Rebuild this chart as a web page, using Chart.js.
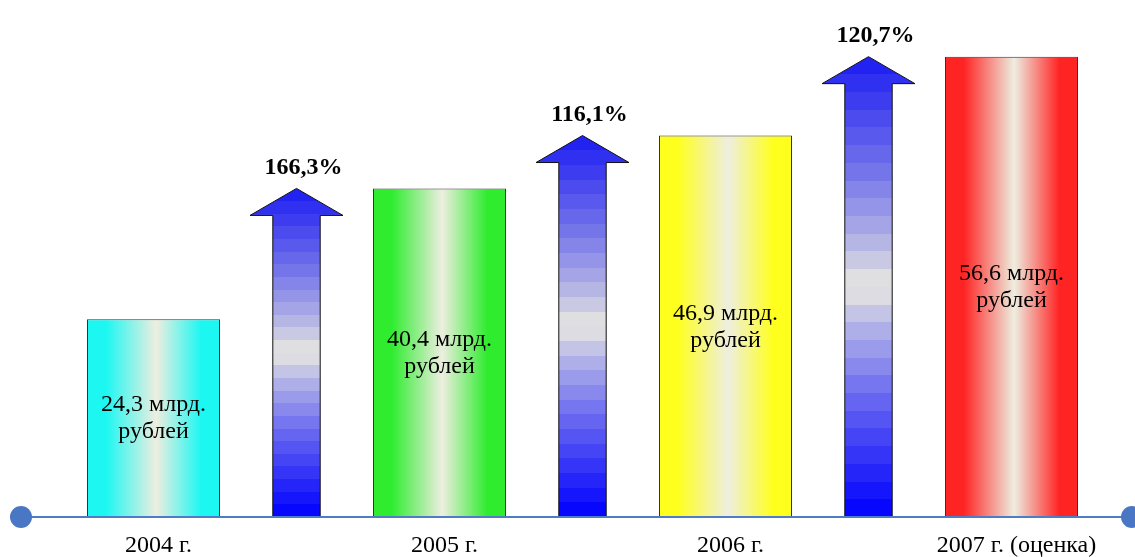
<!DOCTYPE html>
<html>
<head>
<meta charset="utf-8">
<script src="https://cdn.jsdelivr.net/npm/chart.js@4"></script>
<style>
  html, body { margin: 0; padding: 0; background: #fff; }
  #wrap { width: 1135px; height: 557px; }
</style>
</head>
<body>
<div id="wrap"><canvas id="chart" width="1135" height="557"></canvas></div>
<script>
// data
var years = ['2004 г.', '2005 г.', '2006 г.', '2007 г. (оценка)'];
var revenue = [24.3, 40.4, 46.9, 56.6];       // млрд. рублей
var growth = [166.3, 116.1, 120.7];           // % to previous year
var barColors = ['#1CF7F2', '#2FEC2F', '#FFFF1E', '#FF2424'];

var serif = "'Liberation Serif', 'Times New Roman', serif";

// 7 slots: bar, arrow, bar, arrow ...
var labels = [], barData = [], arrowData = [];
years.forEach(function (y, i) {
    labels.push(y); barData.push(revenue[i]); arrowData.push(null);
    if (i < years.length - 1) {
        labels.push(''); barData.push(null); arrowData.push(revenue[i + 1]);
    }
});

function fmt(v) { return v.toFixed(1).replace('.', ','); }

function mix(a, b, t) {
    var pa = [parseInt(a.substr(1, 2), 16), parseInt(a.substr(3, 2), 16), parseInt(a.substr(5, 2), 16)];
    var pb = [parseInt(b.substr(1, 2), 16), parseInt(b.substr(3, 2), 16), parseInt(b.substr(5, 2), 16)];
    return 'rgb(' + pa.map(function (c, k) { return Math.round(c + (pb[k] - c) * t); }).join(',') + ')';
}

function barFill(ctx) {
    var chart = ctx.chart;
    var col = barColors[ctx.dataIndex / 2] || '#ccc';
    if (!chart.chartArea) return col;
    var xs = chart.scales.x;
    var c = xs.getPixelForValue(ctx.dataIndex);
    var w = xs.width / labels.length * 0.93;
    var g = chart.ctx.createLinearGradient(c - w / 2, 0, c + w / 2, 0);
    g.addColorStop(0, col);
    g.addColorStop(0.14, col);
    g.addColorStop(0.52, '#EEEEE0');
    g.addColorStop(0.86, col);
    g.addColorStop(1, col);
    return g;
}

var arrowPlugin = {
    id: 'arrows',
    afterDatasetsDraw: function (chart) {
        var ctx = chart.ctx;
        var meta = chart.getDatasetMeta(1);
        var k = 0;
        meta.data.forEach(function (el, i) {
            if (arrowData[i] == null) return;
            var p = el.getProps(['x', 'y', 'base', 'width'], true);
            var head = p.width, shaft = p.width * 0.51, hh = 27;
            var g = ctx.createLinearGradient(0, p.base, 0, p.y);
            var n = 26;
            for (var s = 0; s < n; s++) {
                var t = (s + 0.5) / n;
                var d = Math.abs(t - 0.5) * 2;
                var col = t < 0.5 ? mix('#EEEEE0', '#0000FF', Math.pow(d, 0.8))
                                  : mix('#EEEEE0', '#1C1CF2', Math.pow(d, 0.8));
                g.addColorStop(s / n, col);
                g.addColorStop((s + 1) / n, col);
            }
            ctx.save();
            ctx.beginPath();
            ctx.moveTo(p.x - shaft / 2, p.base);
            ctx.lineTo(p.x - shaft / 2, p.y + hh);
            ctx.lineTo(p.x - head / 2, p.y + hh);
            ctx.lineTo(p.x, p.y);
            ctx.lineTo(p.x + head / 2, p.y + hh);
            ctx.lineTo(p.x + shaft / 2, p.y + hh);
            ctx.lineTo(p.x + shaft / 2, p.base);
            ctx.closePath();
            ctx.fillStyle = g;
            ctx.fill();
            ctx.lineWidth = 1;
            ctx.strokeStyle = '#111';
            ctx.stroke();

            ctx.fillStyle = '#000';
            ctx.font = 'bold 24px ' + serif;
            ctx.textAlign = 'center';
            ctx.textBaseline = 'middle';
            ctx.fillText(fmt(growth[k]) + '%', p.x + 7, p.y - 21);
            ctx.restore();
            k++;
        });

        // value labels inside bars
        var bm = chart.getDatasetMeta(0);
        ctx.save();
        ctx.fillStyle = '#000';
        ctx.font = '24px ' + serif;
        ctx.textAlign = 'center';
        ctx.textBaseline = 'middle';
        bm.data.forEach(function (el, i) {
            if (barData[i] == null) return;
            var p = el.getProps(['x', 'y', 'base'], true);
            var mid = (p.y + p.base) / 2;
            ctx.fillText(fmt(barData[i]) + ' млрд.', p.x, mid - 13);
            ctx.fillText('рублей', p.x, mid + 14);
        });
        ctx.restore();

        // base axis line with dots
        var y0 = chart.scales.y.getPixelForValue(0);
        ctx.save();
        ctx.strokeStyle = '#4F7CC6';
        ctx.lineWidth = 2;
        ctx.beginPath();
        ctx.moveTo(21, y0);
        ctx.lineTo(1132, y0);
        ctx.stroke();
        ctx.fillStyle = '#4A77C3';
        [21, 1132].forEach(function (x) {
            ctx.beginPath();
            ctx.arc(x, y0, 11, 0, Math.PI * 2);
            ctx.fill();
        });
        ctx.restore();
    }
};

new Chart(document.getElementById('chart'), {
    type: 'bar',
    data: {
        labels: labels,
        datasets: [{
            data: barData,
            backgroundColor: barFill,
            borderColor: '#333',
            borderWidth: 1,
            borderSkipped: 'start',
            barPercentage: 0.93,
            categoryPercentage: 1,
            grouped: false
        }, {
            data: arrowData,
            backgroundColor: 'rgba(0,0,0,0)',
            borderWidth: 0,
            barPercentage: 0.65,
            categoryPercentage: 1,
            grouped: false
        }]
    },
    options: {
        responsive: false,
        animation: false,
        layout: { padding: { left: 82, right: 52, top: 29, bottom: 0 } },
        plugins: { legend: { display: false }, tooltip: { enabled: false } },
        scales: {
            x: {
                grid: { display: false, drawTicks: false },
                border: { display: false },
                ticks: { color: '#000', font: { family: serif, size: 24 }, padding: 14, labelOffset: 5, maxRotation: 0, autoSkip: false },
                afterFit: function (s) { s.height = 40; }
            },
            y: { display: false, min: 0, max: 60 }
        }
    },
    plugins: [arrowPlugin]
});
</script>
</body>
</html>
